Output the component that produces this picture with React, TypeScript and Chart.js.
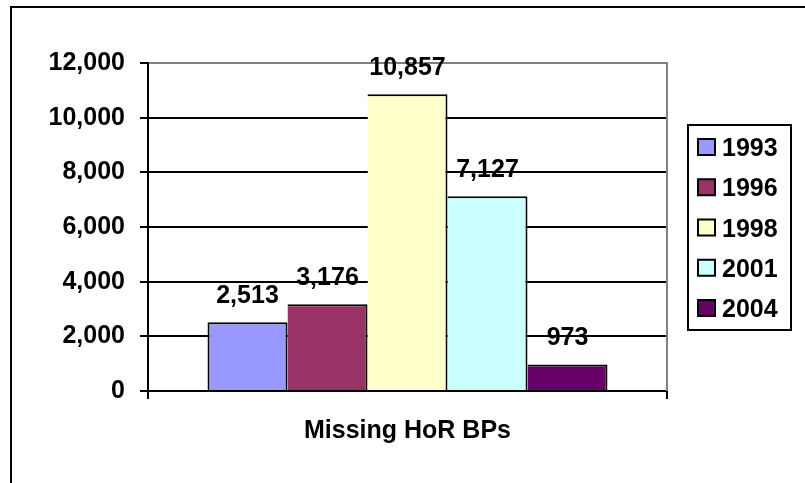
import React, { useEffect, useRef } from "react";
import { Chart, registerables } from "chart.js";

Chart.register(...registerables);

const categories = ["Missing HoR BPs"];
const seriesLabels = ["1993", "1996", "1998", "2001", "2004"];
const seriesValues = [2513, 3176, 10857, 7127, 973];
const seriesColors = ["#9999FF", "#993366", "#FFFFCC", "#CCFFFF", "#660066"];
const yMin = 0;
const yMax = 12000;
const yStep = 2000;

const FONT_FAMILY = '"Liberation Sans", Arial, Helvetica, sans-serif';
const FONT_SIZE = 25;

const fmt = (v: number) => v.toLocaleString("en-US");

const decorPlugin = {
  id: "decor",
  beforeDraw(chart: any) {
    const ctx = chart.ctx;
    ctx.save();
    ctx.fillStyle = "#ffffff";
    ctx.fillRect(0, 0, chart.width, chart.height);
    ctx.strokeStyle = "#000";
    ctx.lineWidth = 2;
    ctx.strokeRect(11, 7, chart.width + 50, chart.height + 50);
    ctx.restore();
  },
  afterDraw(chart: any) {
    const ctx = chart.ctx;
    const a = chart.chartArea;
    ctx.save();
    // right plot border (gray)
    ctx.strokeStyle = "#808080";
    ctx.lineWidth = 2;
    ctx.beginPath();
    ctx.moveTo(Math.round(a.right), a.top - 1);
    ctx.lineTo(Math.round(a.right), a.bottom);
    ctx.stroke();

    // data labels
    ctx.fillStyle = "#000";
    ctx.font = `bold ${FONT_SIZE}px ${FONT_FAMILY}`;
    ctx.textAlign = "center";
    ctx.textBaseline = "alphabetic";
    chart.data.datasets.forEach((ds: any, i: number) => {
      const meta = chart.getDatasetMeta(i);
      meta.data.forEach((bar: any, j: number) => {
        ctx.fillText(fmt(ds.data[j]), bar.x, bar.y - 19);
      });
    });

    // legend
    const lx = 688;
    const ly = 125;
    const lw = 103;
    const lh = 205;
    ctx.strokeStyle = "#000";
    ctx.lineWidth = 2;
    ctx.strokeRect(lx, ly, lw, lh);
    const step = 40.25;
    chart.data.datasets.forEach((ds: any, i: number) => {
      const cy = 147 + i * step;
      ctx.fillStyle = ds.backgroundColor;
      ctx.fillRect(698, cy - 8, 17, 16);
      ctx.strokeStyle = "#000";
      ctx.lineWidth = 2;
      ctx.strokeRect(698, cy - 8, 17, 16);
      ctx.fillStyle = "#000";
      ctx.textAlign = "left";
      ctx.textBaseline = "alphabetic";
      ctx.fillText(ds.label, 722, cy + 9);
    });
    ctx.restore();
  },
};

export default function App() {
  const ref = useRef<HTMLCanvasElement | null>(null);

  useEffect(() => {
    if (!ref.current) return;
    const chart = new Chart(ref.current, {
      type: "bar",
      data: {
        labels: categories,
        datasets: seriesLabels.map((label, i) => ({
          label,
          data: [seriesValues[i]],
          backgroundColor: seriesColors[i],
          borderColor: "#000",
          borderWidth: { top: 2, right: 2, bottom: 0, left: i === 0 ? 2 : 0 },
          borderSkipped: false,
          categoryPercentage: 400 / 519,
          barPercentage: 1,
        })),
      },
      options: {
        responsive: false,
        animation: false,
        devicePixelRatio: 1,
        layout: { padding: { top: 63, right: 138, left: 0, bottom: 0 } },
        plugins: {
          legend: { display: false },
          tooltip: { enabled: false },
          title: { display: false },
        },
        scales: {
          x: {
            afterFit: (s: any) => {
              s.height = 92;
            },
            grid: {
              display: true,
              drawOnChartArea: false,
              drawTicks: true,
              tickLength: 8,
              color: "#000",
              lineWidth: 2,
              offset: true,
            },
            border: { display: true, color: "#000", width: 2 },
            ticks: {
              color: "#000",
              padding: 17,
              font: { family: FONT_FAMILY, size: FONT_SIZE, weight: "bold" },
            },
          },
          y: {
            min: yMin,
            max: yMax,
            afterFit: (s: any) => {
              s.width = 148;
            },
            grid: {
              color: (c: any) => (c.tick && c.tick.value === yMax ? "#808080" : "#000"),
              tickColor: "#000",
              lineWidth: 2,
              drawTicks: true,
              tickLength: 8,
            },
            border: { display: true, color: "#000", width: 2 },
            ticks: {
              stepSize: yStep,
              color: "#000",
              padding: 15,
              callback: (v: any) => fmt(Number(v)),
              font: { family: FONT_FAMILY, size: FONT_SIZE, weight: "bold" },
            },
          },
        },
      },
      plugins: [decorPlugin],
    });
    return () => chart.destroy();
  }, []);

  return (
    <div style={{ position: "absolute", left: 0, top: 0, width: 805, height: 483 }}>
      <canvas ref={ref} width={805} height={483} style={{ display: "block" }} />
    </div>
  );
}
